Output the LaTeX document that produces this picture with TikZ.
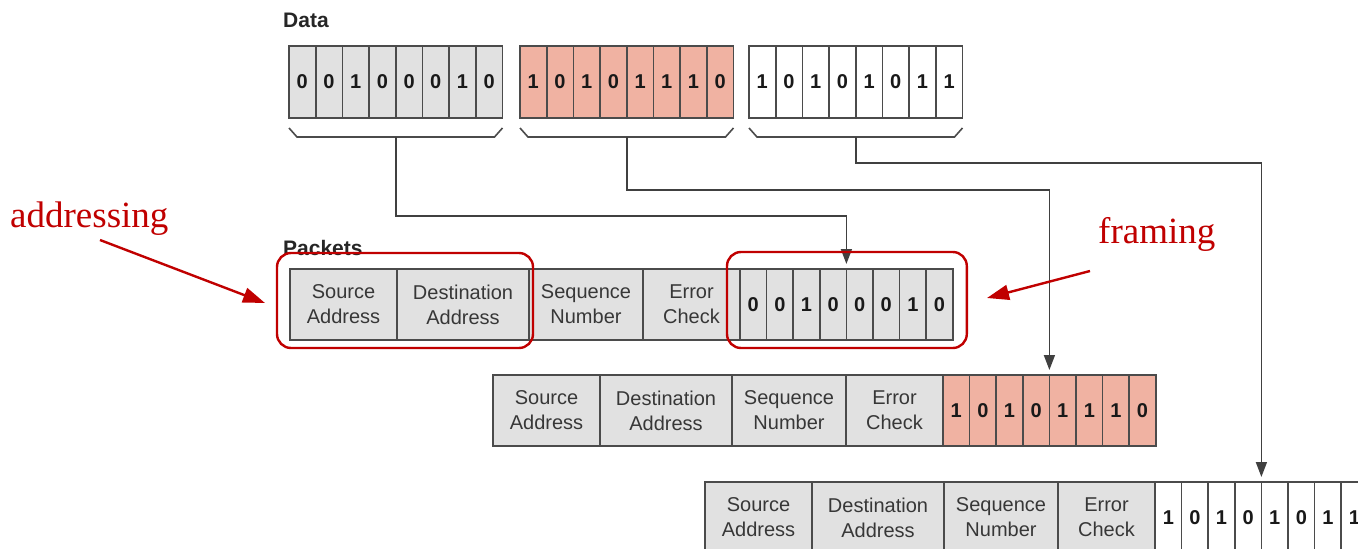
\documentclass[tikz,border=0pt]{standalone}
\usepackage{fontspec}
\setmainfont{Liberation Sans}
\newfontfamily\annfont{Liberation Serif}
\usetikzlibrary{arrows.meta,calc}
\definecolor{cellgrey}{RGB}{225,225,225}
\definecolor{cellpink}{RGB}{240,178,162}
\definecolor{cellline}{RGB}{75,75,75}
\definecolor{annred}{RGB}{192,0,0}
\definecolor{txtgrey}{RGB}{55,55,55}
\definecolor{bittxt}{RGB}{25,25,25}
\begin{document}
\begin{tikzpicture}[x=1pt,y=-1pt,
  cell/.style={draw=cellline, line width=1.6pt, anchor=north west, inner sep=0pt, outer sep=0pt,
    minimum height=71pt, align=center, text=txtgrey, font=\fontsize{20}{25}\selectfont},
  bitcell/.style={cell, minimum width=26.6pt, text=bittxt, font=\fontsize{20}{24}\selectfont\bfseries},
  databit/.style={bitcell, minimum height=72pt},
  brace/.style={draw=cellline, line width=1.6pt},
  conn/.style={draw=black!75, line width=1.6pt, -{Triangle[length=15pt,width=11pt]}, shorten >=5pt},
  redbox/.style={draw=annred, line width=2.4pt, rounded corners=14pt},
  redarrow/.style={draw=annred, line width=2.4pt, -{Triangle[length=22pt,width=15pt]}},
  ann/.style={text=annred, font=\annfont\fontsize{37}{40}\selectfont, inner sep=0pt, anchor=base west},
  heading/.style={font=\fontsize{21}{24}\selectfont\bfseries, text=black!85, inner sep=0pt, anchor=base west}
]
\useasboundingbox (0,0) rectangle (1358,549);

% headings
\node[heading] (datalbl) at (283,27) {Data};
\node[heading] (pktlbl) at (283,255) {Packets};

% data boxes
\foreach \k/\dx/\col/\bits in {1/289/cellgrey/{0,0,1,0,0,0,1,0},
                                2/520/cellpink/{1,0,1,0,1,1,1,0},
                                3/749/white/{1,0,1,0,1,0,1,1}} {
  \foreach \b [count=\i] in \bits {
    \node[databit, fill=\col] (d\k-b\i) at ({\dx+(\i-1)*26.7},46) {\b};
  }
  \draw[brace] ($(d\k-b1.south west)+(0,10)$) -- ++(8,9)
     -- ($(d\k-b8.south east)+(-8,19)$) -- ++(8,-9);
  \coordinate (br\k) at ($(d\k-b1.south west)!0.5!(d\k-b8.south east)+(0,19)$);
}

% packets
\foreach \p/\px/\py/\col/\bits in {1/290/269/cellgrey/{0,0,1,0,0,0,1,0},
                                   2/493/375/cellpink/{1,0,1,0,1,1,1,0},
                                   3/705/482/white/{1,0,1,0,1,0,1,1}} {
  \node[cell, fill=cellgrey, minimum width=107pt] (p\p-src) at (\px,\py) {Source\\Address};
  \node[cell, fill=cellgrey, minimum width=132pt] (p\p-dst) at (p\p-src.north east) {Destination\\Address};
  \node[cell, fill=cellgrey, minimum width=114pt] (p\p-seq) at (p\p-dst.north east) {Sequence\\Number};
  \node[cell, fill=cellgrey, minimum width=97pt] (p\p-err) at (p\p-seq.north east) {Error\\Check};
  \foreach \b [count=\i] in \bits {
    \node[bitcell, fill=\col] (p\p-b\i) at ($(p\p-err.north east)+({(\i-1)*26.6},0)$) {\b};
  }
}

% connectors
\draw[conn] (br1) -- ++(0,79) -| (p1-b5.north west);
\draw[conn] (br2) -- ++(0,53) -| (p2-b5.north west);
\draw[conn] (br3) -- ++(0,26) -| (p3-b5.north west);

% annotations
\draw[redbox] ($(p1-src.north west)+(-13,-16)$) rectangle ($(p1-dst.south east)+(4,8)$);
\draw[redbox] ($(p1-b1.north west)+(-13,-17)$) rectangle ($(p1-b8.south east)+(14,8)$);
\node[ann] (addr) at (10,227) {addressing};
\node[ann] (fram) at (1098,243) {framing};
\coordinate (addrtail) at (100,240);
\coordinate (addrtip) at (265,303);
\coordinate (framtail) at (1090,271);
\coordinate (framtip) at (987,298);
\draw[redarrow] (addrtail) -- (addrtip);
\draw[redarrow] (framtail) -- (framtip);
\end{tikzpicture}
\end{document}
